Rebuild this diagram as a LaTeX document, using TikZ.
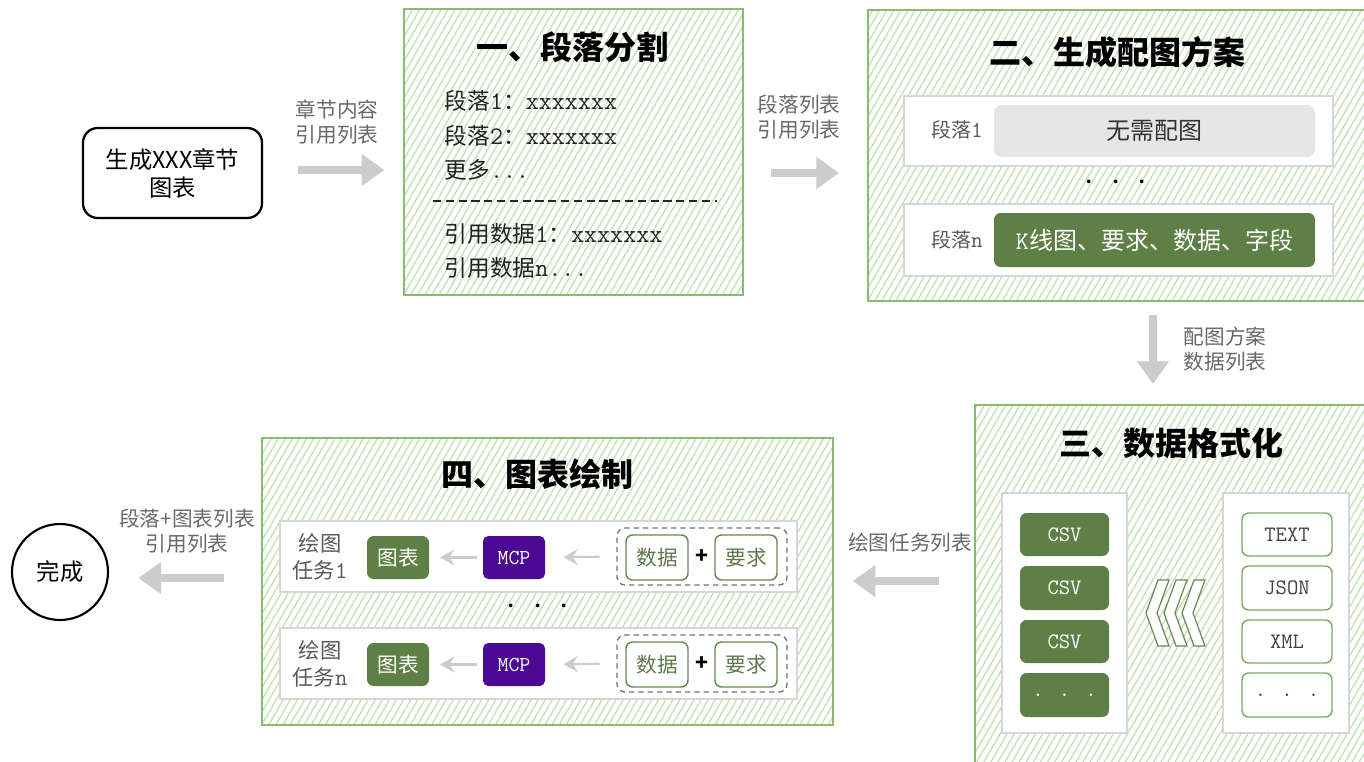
\documentclass[tikz,border=0pt]{standalone}
\usepackage{fontspec}
\setmainfont{Noto Sans CJK SC}
\newcommand\mono{\ttfamily\addfontfeatures{LetterSpace=7}}
\newcommand\bm{\fontsize{19}{20}\selectfont\mono}
\newcommand\sm{\fontsize{17}{18}\selectfont\mono}
\usetikzlibrary{arrows.meta,patterns.meta,fit}
\definecolor{hatch}{RGB}{192,224,176}
\definecolor{gborder}{RGB}{137,188,112}
\definecolor{dgreen}{RGB}{94,128,70}
\definecolor{ogreen}{RGB}{125,170,100}
\definecolor{rgreen}{RGB}{100,138,82}
\definecolor{rtext}{RGB}{95,120,80}
\definecolor{lgray}{RGB}{204,204,204}
\definecolor{pgray}{RGB}{214,214,214}
\definecolor{purp}{RGB}{76,10,148}
\definecolor{labgray}{RGB}{105,105,105}
\definecolor{boxgray}{RGB}{230,230,230}
\definecolor{txt}{RGB}{34,34,34}
\begin{document}
\begin{tikzpicture}[x=0.75pt,y=-0.75pt,
  stage/.style={preaction={fill=white}, pattern={Lines[angle=60,distance=4.6pt,line width=0.9pt]}, pattern color=hatch, draw=gborder, line width=1.5pt, inner sep=0pt},
  panel/.style={draw=pgray, line width=1.2pt, fill=white, inner sep=0pt},
  dbox/.style={fill=dgreen, rounded corners=5pt, inner sep=0pt},
  obox/.style={draw=ogreen, line width=1.1pt, fill=white, rounded corners=5pt, inner sep=0pt},
  rbox/.style={draw=rgreen, line width=1.1pt, fill=white, rounded corners=5pt, inner sep=0pt},
  mcpbox/.style={fill=purp, rounded corners=4pt, inner sep=0pt},
  dashbox/.style={draw=black!55, dash pattern=on 4pt off 3pt, line width=1pt, rounded corners=6pt, inner sep=0pt},
  wtxt/.style={text=white, inner sep=0pt},
  ttl/.style={font=\fontsize{24}{28}\selectfont\bfseries, text=black},
  arlab/.style={font=\fontsize{15.5}{19}\selectfont, text=labgray, align=center},
  bigarrow/.style={draw=lgray, line width=6pt, -{Triangle[length=17pt,width=23pt]}},
  smallarrow/.style={draw=lgray, line width=1.6pt, -{Stealth[length=11pt,width=12pt,inset=4pt]}},
  linetxt/.style={anchor=west, font=\fontsize{17}{20}\selectfont, text=txt},
  rowlab/.style={font=\fontsize{15}{18}\selectfont, text=black!65},
  dots/.style={font=\fontsize{13}{13}\selectfont, text=black}
]
\useasboundingbox (0,0) rectangle (1364,761);
\clip (0,0) rectangle (1364,761);
\fill[white] (0,0) rectangle (1364,761);

% start node
\node[draw=black, line width=1.7pt, rounded corners=11pt, inner sep=0pt, fit={(83,128) (262,218)}] (start) {};
\node[align=center, font=\fontsize{17.5}{21}\selectfont] (starttxt) at (start.center) {生成XXX章节\\图表};

% done node
\node[draw=black, line width=1.6pt, circle, minimum size=72pt, inner sep=0pt, font=\fontsize{17.5}{21}\selectfont] (done) at (60,572) {完成};

% ===== stage 1
\node[stage, fit={(404,9) (743,295)}] (s1) {};
\node[ttl] (t1) at (572,47) {一、段落分割};
\node[linetxt] (l1) at (440,101) {段落{\bm 1}：{\bm xxxxxxx}};
\node[linetxt] (l2) at (440,136) {段落{\bm 2}：{\bm xxxxxxx}};
\node[linetxt] (l3) at (440,170) {更多{\bm ...}};
\coordinate (dl) at (433,201);
\coordinate (dr) at (717,201);
\draw[black!85, line width=1pt, dash pattern=on 6.2pt off 3.4pt] (dl) -- (dr);
\node[linetxt] (l4) at (440,234) {引用数据{\bm 1}：{\bm xxxxxxx}};
\node[linetxt] (l5) at (440,268) {引用数据{\bm n...}};

% ===== stage 2
\node[stage, fit={(868,10) (1372,301)}] (s2) {};
\node[ttl] (t2) at (1117,52) {二、生成配图方案};
\node[panel, fit={(904,96) (1333,166)}] (p21) {};
\node[rowlab] (r21) at (957,130) {段落{\sm 1}};
\node[fill=boxgray, rounded corners=6pt, inner sep=0pt, fit={(994,105) (1315,157)}] (nop) {};
\node[text=black!80, font=\fontsize{18}{20}\selectfont] (noptxt) at (nop.center) {无需配图};
\node[dots] (d2) at (1116,184) {•\hspace{7pt}•\hspace{7pt}•};
\node[panel, fit={(904,204) (1333,276)}] (p22) {};
\node[rowlab] (r22) at (957,240) {段落{\sm n}};
\node[dbox, fit={(994,213) (1315,267)}] (kline) {};
\node[wtxt, font=\fontsize{18}{20}\selectfont] (klinetxt) at (kline.center) {{\fontsize{19}{20}\selectfont\mono K}线图、要求、数据、字段};

% ===== stage 3
\node[stage, fit={(975,405) (1372,768)}] (s3) {};
\node[ttl] (t3) at (1171,443) {三、数据格式化};
\node[panel, fit={(1002,493) (1127,733)}] (p31) {};
\node[panel, fit={(1223,493) (1349,733)}] (p32) {};
\foreach \i/\ya/\yb/\lt/\rt in {1/513/556/CSV/TEXT, 2/566/610/CSV/JSON, 3/620/663/CSV/XML, 4/673/717/. . ./. . .}{
  \node[dbox, fit={(1020,\ya) (1109,\yb)}] (csv\i) {};
  \node[wtxt, font=\fontsize{16.5}{18}\selectfont\mono] (csvt\i) at (csv\i.center) {\lt};
  \node[obox, fit={(1242,\ya) (1332,\yb)}] (src\i) {};
  \node[text=black!75, inner sep=0pt, font=\fontsize{16.5}{18}\selectfont\mono] (srct\i) at (src\i.center) {\rt};
}
\foreach \t in {1146,1164,1182}{
  \draw[rgreen, line width=0.9pt, fill=white, line join=miter]
    (\t,613) -- (\t+12,580) -- (\t+23,580) -- (\t+11,613) -- (\t+23,646) -- (\t+12,646) -- cycle;
}

% ===== stage 4
\node[stage, fit={(262,438) (833,725)}] (s4) {};
\node[ttl] (t4) at (537,474) {四、图表绘制};
\foreach \k/\dy/\n in {1/0/1, 2/107/n}{
  \node[panel, fit={(280,521+\dy) (797,592+\dy)}] (p4\k) {};
  \node[rowlab, font=\fontsize{16}{20}\selectfont, align=center] (rl\k) at (320,557+\dy) {绘图\\任务{\fontsize{18}{20}\selectfont\mono \n}};
  \node[dbox, fit={(367,536+\dy) (429,579+\dy)}] (tb\k) {};
  \node[wtxt, font=\fontsize{15.5}{18}\selectfont] (tbt\k) at (tb\k.center) {图表};
  \node[mcpbox, fit={(483,536+\dy) (545,579+\dy)}] (mcp\k) {};
  \node[wtxt, font=\fontsize{16}{18}\selectfont\mono] (mcpt\k) at (mcp\k.center) {MCP};
  \node[dashbox, fit={(617,528+\dy) (787,585+\dy)}] (db\k) {};
  \node[rbox, fit={(626,535+\dy) (688,580+\dy)}] (sj\k) {};
  \node[text=rtext, inner sep=0pt, font=\fontsize{15.5}{18}\selectfont] (sjt\k) at (sj\k.center) {数据};
  \node[font=\fontsize{16}{18}\selectfont\bfseries, inner sep=0pt] (pl\k) at (702,557+\dy) {+};
  \node[rbox, fit={(715,535+\dy) (777,580+\dy)}] (yq\k) {};
  \node[text=rtext, inner sep=0pt, font=\fontsize{15.5}{18}\selectfont] (yqt\k) at (yq\k.center) {要求};
  \draw[smallarrow, shorten <=4pt, shorten >=8pt] (mcp\k.west) -- (tb\k.east);
  \draw[smallarrow, shorten <=12.5pt, shorten >=13.5pt] (db\k.west) -- (mcp\k.east);
}
\node[dots] (d4) at (538,608) {•\hspace{7pt}•\hspace{7pt}•};

% ===== big arrows
\draw[bigarrow, shorten <=26pt, shorten >=14pt] (start.east |- 0,170) -- (s1.west |- 0,170);
\node[arlab] (a1) at (337,122) {章节内容\\引用列表};

\draw[bigarrow, shorten <=20pt, shorten >=21pt] (s1.east |- 0,173) -- (s2.west |- 0,173);
\node[arlab] (a2) at (799,117) {段落列表\\引用列表};

\draw[bigarrow, shorten <=10pt, shorten >=15pt] (s2.south -| 1153,0) -- (s3.north -| 1153,0);
\node[arlab] (a3) at (1225,349) {配图方案\\数据列表};

\draw[bigarrow, shorten <=26pt, shorten >=14pt] (s3.west |- 0,581) -- (s4.east |- 0,581);
\node[arlab] (a4) at (910,543) {绘图任务列表};

\draw[bigarrow, shorten <=28pt, shorten >=22pt] (s4.west |- 0,578) -- (done.east |- 0,578);
\node[arlab] (a5) at (187,531) {段落+图表列表\\引用列表};
\end{tikzpicture}
\end{document}
